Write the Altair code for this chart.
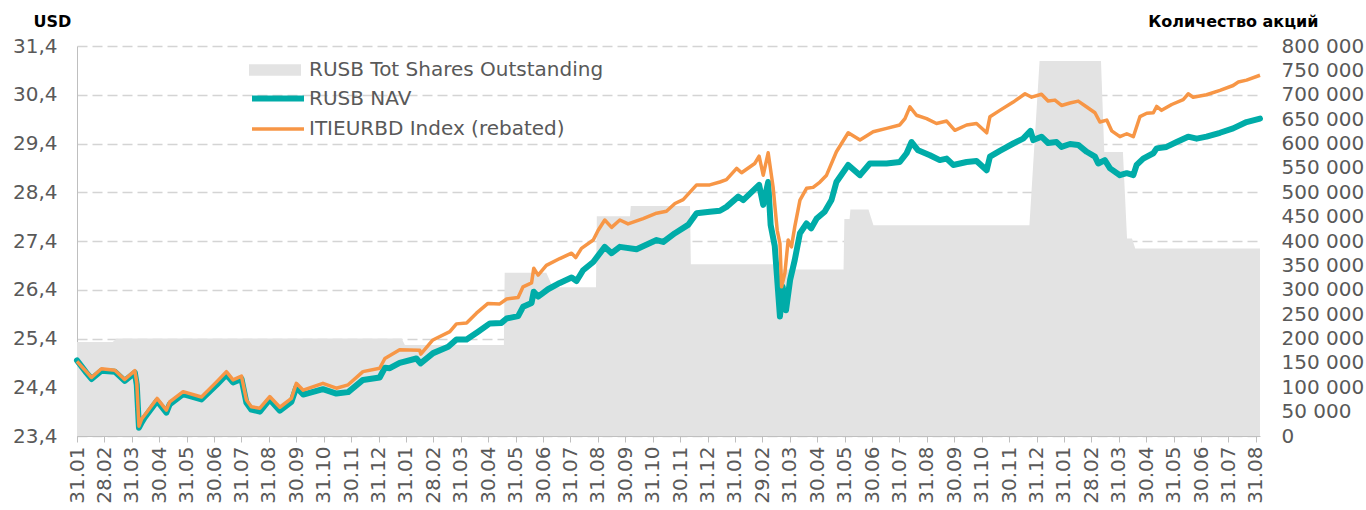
import json
import altair as alt
import pandas as pd

# ---------------- data ----------------
tick_labels = [
    "31.01", "28.02", "31.03", "30.04", "31.05", "30.06", "31.07", "31.08", "30.09", "31.10", "30.11", "31.12",
    "31.01", "28.02", "31.03", "30.04", "31.05", "30.06", "31.07", "31.08", "30.09", "31.10", "30.11", "31.12",
    "31.01", "29.02", "31.03", "30.04", "31.05", "30.06", "31.07", "31.08", "30.09", "31.10", "30.11", "31.12",
    "31.01", "28.02", "31.03", "30.04", "31.05", "30.06", "31.07", "31.08",
]

# month position (0 = first tick) and value
idx_t = [0.00, 0.34, 0.53, 0.89, 1.38, 1.74, 2.11, 2.18, 2.26, 2.36, 2.47, 2.92, 3.26, 3.38, 3.87, 4.54, 5.09,
         5.45, 5.69, 6.00, 6.18, 6.36, 6.67, 7.03, 7.40, 7.82, 8.00, 8.25, 8.97, 9.46, 9.89, 10.43, 11.04, 11.23,
         11.77, 12.50, 12.54, 12.98, 13.60, 13.84, 14.21, 14.57, 14.99, 15.42, 15.67, 16.09, 16.27, 16.58, 16.66,
         16.82, 17.12, 17.61, 18.04, 18.19, 18.40, 18.83, 19.01, 19.25, 19.50, 19.80, 20.10, 20.65, 21.14, 21.50,
         21.81, 22.11, 22.60, 23.08, 23.45, 23.69, 24.06, 24.24, 24.72, 24.88, 25.03, 25.21, 25.39, 25.54, 25.64,
         25.70, 25.82, 25.94, 26.06, 26.18, 26.37, 26.61, 26.85, 27.10, 27.34, 27.70, 28.13, 28.56, 29.04, 29.53,
         30.01, 30.20, 30.38, 30.62, 30.99, 31.35, 31.72, 32.02, 32.45, 32.81, 33.18, 33.30, 33.66, 34.15, 34.58,
         34.82, 35.18, 35.42, 35.67, 35.91, 36.22, 36.52, 36.83, 37.13, 37.31, 37.56, 37.74, 38.04, 38.29, 38.53,
         38.77, 39.02, 39.26, 39.38, 39.56, 39.93, 40.35, 40.53, 40.71, 41.20, 41.69, 42.17, 42.36, 42.66, 43.15]
idx_v = [24.93, 24.72, 24.60, 24.78, 24.75, 24.56, 24.74, 24.50, 23.60, 23.75, 23.83, 24.17, 23.93, 24.10, 24.31,
         24.20, 24.51, 24.72, 24.55, 24.63, 24.14, 24.00, 23.97, 24.21, 23.99, 24.17, 24.48, 24.34, 24.48, 24.38,
         24.45, 24.72, 24.79, 24.99, 25.17, 25.16, 25.08, 25.37, 25.54, 25.70, 25.72, 25.92, 26.12, 26.11, 26.21,
         26.24, 26.46, 26.54, 26.84, 26.70, 26.90, 27.04, 27.15, 27.06, 27.25, 27.42, 27.62, 27.83, 27.68, 27.83,
         27.75, 27.86, 27.97, 28.01, 28.17, 28.25, 28.55, 28.55, 28.61, 28.66, 28.89, 28.80, 28.99, 29.14, 28.75,
         29.21, 28.51, 27.62, 27.35, 26.46, 26.74, 27.42, 27.28, 27.69, 28.24, 28.48, 28.50, 28.61, 28.75, 29.23,
         29.62, 29.47, 29.64, 29.71, 29.78, 29.91, 30.15, 29.98, 29.91, 29.81, 29.86, 29.67, 29.78, 29.81, 29.62,
         29.95, 30.08, 30.25, 30.42, 30.35, 30.41, 30.27, 30.29, 30.18, 30.23, 30.27, 30.15, 30.03, 29.84, 29.88,
         29.66, 29.54, 29.60, 29.54, 29.95, 30.02, 30.03, 30.16, 30.08, 30.20, 30.30, 30.42, 30.35, 30.40, 30.49,
         30.59, 30.66, 30.70, 30.80]

nav_t = [0.00, 0.34, 0.53, 0.89, 1.38, 1.74, 2.11, 2.18, 2.26, 2.36, 2.47, 2.92, 3.26, 3.38, 3.87, 4.54, 5.09,
         5.45, 5.69, 6.00, 6.18, 6.36, 6.67, 7.03, 7.40, 7.82, 8.00, 8.25, 8.97, 9.46, 9.89, 10.43, 11.04, 11.23,
         11.41, 11.77, 12.38, 12.53, 12.99, 13.54, 13.84, 14.21, 14.63, 15.06, 15.48, 15.67, 16.09, 16.27, 16.58,
         16.66, 16.82, 17.18, 17.61, 18.04, 18.22, 18.46, 18.83, 19.25, 19.50, 19.80, 20.41, 21.14, 21.38, 21.81,
         22.29, 22.60, 23.08, 23.45, 23.69, 24.12, 24.30, 24.88, 25.03, 25.21, 25.30, 25.45, 25.64, 25.74, 25.86,
         26.01, 26.18, 26.37, 26.61, 26.78, 26.98, 27.27, 27.52, 27.70, 28.13, 28.56, 28.92, 29.53, 30.01, 30.26,
         30.44, 30.68, 31.11, 31.47, 31.72, 31.96, 32.45, 32.81, 33.18, 33.30, 33.66, 34.15, 34.51, 34.78, 34.88,
         35.18, 35.42, 35.73, 35.91, 36.22, 36.52, 36.83, 37.13, 37.25, 37.49, 37.68, 38.04, 38.29, 38.53, 38.65,
         38.89, 39.26, 39.38, 39.74, 40.11, 40.53, 40.84, 41.20, 41.69, 42.17, 42.66, 43.15]
nav_v = [24.95, 24.70, 24.57, 24.74, 24.72, 24.53, 24.70, 24.45, 23.57, 23.68, 23.78, 24.12, 23.88, 24.05, 24.26,
         24.15, 24.45, 24.66, 24.50, 24.57, 24.08, 23.94, 23.90, 24.15, 23.92, 24.10, 24.40, 24.25, 24.36, 24.27,
         24.30, 24.55, 24.60, 24.80, 24.79, 24.90, 24.99, 24.89, 25.10, 25.23, 25.38, 25.38, 25.54, 25.71, 25.72,
         25.81, 25.86, 26.05, 26.13, 26.36, 26.26, 26.41, 26.54, 26.65, 26.58, 26.80, 26.97, 27.28, 27.15, 27.28,
         27.23, 27.42, 27.38, 27.56, 27.73, 27.97, 28.00, 28.02, 28.10, 28.31, 28.24, 28.55, 28.14, 28.61, 27.73,
         27.30, 25.85, 26.46, 25.98, 26.60, 27.01, 27.56, 27.76, 27.66, 27.86, 28.00, 28.24, 28.61, 28.96, 28.75,
         28.99, 28.99, 29.02, 29.20, 29.43, 29.26, 29.16, 29.06, 29.09, 28.96, 29.02, 29.04, 28.85, 29.13, 29.25,
         29.40, 29.50, 29.66, 29.47, 29.54, 29.41, 29.43, 29.33, 29.39, 29.37, 29.23, 29.13, 28.99, 29.06, 28.89,
         28.75, 28.79, 28.75, 28.96, 29.09, 29.20, 29.30, 29.33, 29.43, 29.54, 29.50, 29.54, 29.62, 29.71, 29.84,
         29.91]

shares_t = [0.00, 1.30, 1.45, 11.84, 11.96, 15.57, 15.60, 17.12, 17.35, 18.93, 18.96, 20.17, 20.20, 22.36, 22.39,
            25.40, 25.43, 27.96, 27.99, 28.18, 28.21, 28.87, 29.05, 34.74, 35.11, 37.35, 37.47, 38.15, 38.30, 38.48,
            38.60, 43.15]
shares_v = [193000, 193000, 200000, 200000, 186500, 186500, 335000, 335000, 305000, 305000, 451000, 451000,
            472000, 472000, 352500, 352500, 341600, 341600, 445000, 445000, 464600, 464600, 432500, 432500,
            769000, 769000, 582700, 582700, 405000, 405000, 384700, 384700]

left_ticks = [23.4, 24.4, 25.4, 26.4, 27.4, 28.4, 29.4, 30.4, 31.4]
right_ticks = list(range(0, 800001, 50000))

S_AREA = "RUSB Tot Shares Outstanding"
S_NAV = "RUSB NAV"
S_IDX = "ITIEURBD Index (rebated)"

nav_df = pd.DataFrame({"t": nav_t, "v": nav_v, "series": S_NAV})
idx_df = pd.DataFrame({"t": idx_t, "v": idx_v, "series": S_IDX})
sh_df = pd.DataFrame({"t": shares_t, "shares": shares_v, "series": S_AREA})

# ---------------- styling ----------------
FONT = "DejaVu Sans"
LABEL_COLOR = "#595959"
AXIS_LINE = "#bfbfbf"

x_enc = alt.X(
    "t:Q",
    title=None,
    scale=alt.Scale(domain=[0, 43.15], nice=False, zero=False),
    axis=alt.Axis(
        values=list(range(len(tick_labels))),
        labelExpr=json.dumps(tick_labels) + "[datum.value]",
        labelAngle=-90,
        labelOverlap=False,
        labelFlush=False,
        labelPadding=4,
        tickSize=6,
        tickColor=AXIS_LINE,
        domainColor=AXIS_LINE,
        grid=False,
    ),
)

line_legend = alt.Legend(
    orient="none", legendX=172, legendY=36.5,
    symbolType="M-2,0H2", symbolSize=676, symbolOffset=13, labelOffset=15,
    rowPadding=3.5, labelFontSize=20, labelColor=LABEL_COLOR, labelFont=FONT, padding=0,
    labelLimit=400,
)

stroke_enc = alt.Stroke(
    "series:N", title=None,
    scale=alt.Scale(domain=[S_NAV, S_IDX], range=["#00aca8", "#f79646"]),
    legend=line_legend,
)
width_enc = alt.StrokeWidth(
    "series:N", title=None,
    scale=alt.Scale(domain=[S_NAV, S_IDX], range=[6, 3.5]),
    legend=line_legend,
)

y_left = alt.Y(
    "v:Q",
    scale=alt.Scale(domain=[23.4, 31.4], nice=False, zero=False),
    axis=alt.Axis(
        orient="left", values=left_ticks,
        labelExpr="replace(format(datum.value, '.1f'), '.', ',')",
        grid=True, gridDash=[10, 5], gridColor="#d4d4d4", gridWidth=1.5,
        domain=True, domainColor=AXIS_LINE, ticks=False, labelPadding=20,
        title="USD", titleAngle=0, titleX=-44, titleY=-20, titleAlign="left",
        titleBaseline="alphabetic", titleFontWeight="bold", titleFontSize=16, titleColor="#000000",
    ),
)

nav_line = alt.Chart(nav_df).mark_line(strokeCap="round", strokeJoin="round").encode(
    x=x_enc, y=y_left, stroke=stroke_enc, strokeWidth=width_enc
)
idx_line = alt.Chart(idx_df).mark_line(strokeJoin="round").encode(
    x=x_enc, y=y_left, stroke=stroke_enc, strokeWidth=width_enc
)

area = alt.Chart(sh_df).mark_area(interpolate="linear", opacity=1).encode(
    x=x_enc,
    y=alt.Y(
        "shares:Q",
        stack=None,
        scale=alt.Scale(domain=[0, 800000], nice=False, zero=True),
        axis=alt.Axis(
            orient="right", values=right_ticks,
            labelExpr="replace(format(datum.value, ','), ',', ' ')",
            grid=False, domain=False, ticks=False, labelPadding=21,
            title="Количество акций", titleAngle=0, titleX=58, titleY=-20, titleAlign="right",
            titleBaseline="alphabetic", titleFontWeight="bold", titleFontSize=16, titleColor="#000000",
        ),
    ),
    fill=alt.Fill(
        "series:N", title=None,
        scale=alt.Scale(domain=[S_AREA], range=["#e3e3e3"]),
        legend=alt.Legend(
            orient="none", legendX=172, legendY=11,
            symbolType="M-2,-0.45H2V0.45H-2Z", symbolSize=676, symbolOffset=13, labelOffset=21,
            symbolStrokeWidth=0, labelFontSize=20, labelColor=LABEL_COLOR, labelFont=FONT, padding=0,
            labelLimit=400,
        ),
    ),
)

lines = alt.layer(nav_line, idx_line)

chart = (
    alt.layer(area, lines)
    .resolve_scale(y="independent")
    .properties(
        width=1183, height=390,
        padding={"left": 77, "top": 46, "right": 106, "bottom": 74},
        autosize=alt.AutoSizeParams(type="none"),
        background="#ffffff",
    )
    .configure_axis(labelFont=FONT, labelFontSize=20, labelColor=LABEL_COLOR, titleFont=FONT)
    .configure_view(strokeWidth=0)
)

chart.save("out.html", embed_options={"renderer": "svg", "actions": False})
